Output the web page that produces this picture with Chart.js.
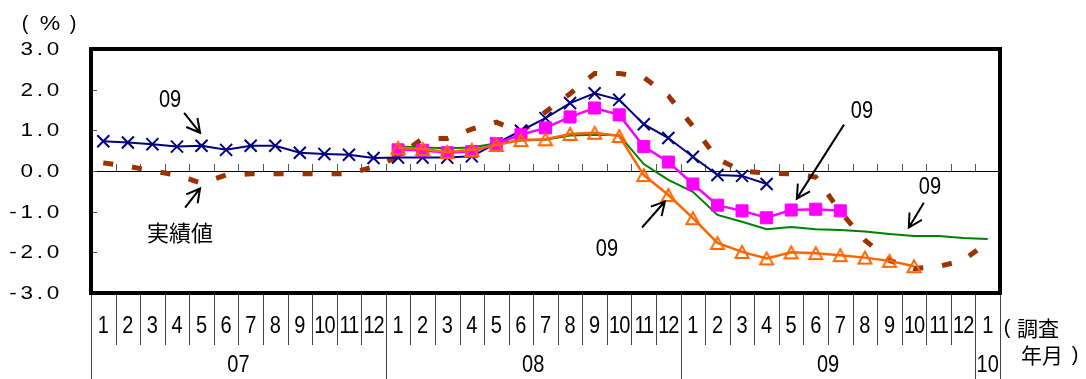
<!DOCTYPE html>
<html lang="ja">
<head>
<meta charset="utf-8">
<title>実績値と見通しの推移</title>
<script src="https://cdn.jsdelivr.net/npm/chart.js@4"></script>
<style>
  html, body { margin: 0; background: #fff; }
  canvas { display: block; }
</style>
</head>
<body>
<canvas id="chart" width="1086" height="379"></canvas>
<script>
// 調査月（07年1月〜10年1月）
const months = ['1','2','3','4','5','6','7','8','9','10','11','12',
                '1','2','3','4','5','6','7','8','9','10','11','12',
                '1','2','3','4','5','6','7','8','9','10','11','12',
                '1'];
const yearLabels = ['07', '08', '09', '10'];
const yearStart = [0, 12, 24, 36];
const yearEnd = [11, 23, 35, 36];
const yTicks = [3, 2, 1, 0, -1, -2, -3];

// 実績値
const actual = [0.20, 0.12, 0.00, -0.10, -0.30, -0.10, -0.07, -0.07, -0.07, -0.07, -0.07, 0.10,
                0.35, 0.80, 0.80, 1.03, 1.20, 0.95, 1.45, 1.90, 2.40, 2.40, 2.30, 1.85,
                1.10, 0.30, 0.00, -0.05, -0.07, -0.15, -1.00, -1.70, -2.20, -2.40, -2.35, -2.20,
                -1.75];
// 見通し（×）
const forecastCross = [0.73, 0.70, 0.66, 0.60, 0.62, 0.52, 0.62, 0.62, 0.45, 0.42, 0.40, 0.32,
                       0.33, 0.33, 0.33, 0.36, 0.68, 0.99, 1.30, 1.67, 1.91, 1.75, 1.15, 0.81,
                       0.35, -0.10, -0.12, -0.32, null, null, null, null, null, null, null, null,
                       null];
// 見通し（■）
const forecastSquare = [null, null, null, null, null, null, null, null, null, null, null, null,
                        0.52, 0.51, 0.45, 0.48, 0.67, 0.89, 1.06, 1.33, 1.55, 1.38, 0.60, 0.22,
                        -0.32, -0.84, -0.98, -1.15, -0.96, -0.94, -0.98, null, null, null, null, null,
                        null];
// 見通し（線のみ）
const forecastLine = [null, null, null, null, null, null, null, null, null, null, null, null,
                      0.60, 0.58, 0.56, 0.58, 0.68, 0.75, 0.77, 0.87, 0.89, 0.88, 0.17, -0.22,
                      -0.51, -1.08, -1.25, -1.43, -1.38, -1.43, -1.45, -1.49, -1.55, -1.60, -1.60, -1.65,
                      -1.67];
// 見通し（△）
const forecastTriangle = [null, null, null, null, null, null, null, null, null, null, null, null,
                          0.57, 0.54, 0.47, 0.52, 0.64, 0.76, 0.78, 0.91, 0.94, 0.86, -0.10, -0.59,
                          -1.16, -1.77, -1.99, -2.15, -2.00, -2.02, -2.07, -2.13, -2.21, -2.34, null, null,
                          null];

// 注記：[月の位置, 値]
const notes = [
  { text: '09', at: [2.72, 1.73], from: [3.29, 1.43], to: [3.94, 0.94] },
  { text: '実績値', cjk: true, at: [3.12, -1.52], from: [3.33, -0.90], to: [3.94, -0.43] },
  { text: '09', at: [20.5, -1.93], from: [21.93, -1.39], to: [22.86, -0.75] },
  { text: '09', at: [30.88, 1.46], from: [30.15, 1.14], to: [28.23, -0.68] },
  { text: '09', at: [33.65, -0.41], from: [33.4, -0.78], to: [32.79, -1.39] }
];

const LATIN = '"Liberation Sans", Arial, sans-serif';
const CJK = '"Noto Sans CJK JP", sans-serif';

function drawText(ctx, str, x, y, opt = {}) {
  ctx.save();
  ctx.translate(x, y);
  ctx.scale(opt.sx || 1, opt.sy || 1);
  ctx.font = `${opt.size || 20}px ${opt.family || LATIN}`;
  ctx.fillStyle = '#000';
  ctx.textAlign = opt.align || 'center';
  ctx.textBaseline = 'middle';
  if (opt.spacing) ctx.letterSpacing = opt.spacing + 'px';
  ctx.fillText(str, 0, 0);
  ctx.restore();
}

function drawArrow(ctx, x1, y1, x2, y2) {
  const a = Math.atan2(y2 - y1, x2 - x1), h = 15, w = 0.5;
  ctx.beginPath();
  ctx.moveTo(x1, y1);
  ctx.lineTo(x2, y2);
  ctx.moveTo(x2 - h * Math.cos(a - w), y2 - h * Math.sin(a - w));
  ctx.lineTo(x2, y2);
  ctx.lineTo(x2 - h * Math.cos(a + w), y2 - h * Math.sin(a + w));
  ctx.stroke();
}

// 中抜きの三角マーカー
function triangleMarker() {
  const c = document.createElement('canvas');
  c.width = 18; c.height = 18;
  const g = c.getContext('2d');
  g.strokeStyle = '#FF6600';
  g.lineWidth = 2;
  g.lineJoin = 'miter';
  g.beginPath();
  g.moveTo(9, 3);
  g.lineTo(15.5, 15);
  g.lineTo(2.5, 15);
  g.closePath();
  g.stroke();
  return c;
}

const axisPlugin = {
  id: 'axisPlugin',
  beforeDatasetsDraw(chart) {
    const { ctx, chartArea: a, scales: { x, y } } = chart;
    const y0 = y.getPixelForValue(0);
    ctx.save();
    ctx.strokeStyle = '#000';
    ctx.lineWidth = 1;
    ctx.beginPath();
    ctx.moveTo(a.left, y0 + 0.5);
    ctx.lineTo(a.right, y0 + 0.5);
    ctx.stroke();
    // 0線上の目盛り
    ctx.strokeStyle = '#555';
    ctx.beginPath();
    for (let i = 1; i < months.length; i++) {
      const px = Math.round(x.getPixelForValue(i - 0.5)) + 0.5;
      ctx.moveTo(px, y0);
      ctx.lineTo(px, y0 - 7);
    }
    // 縦軸の目盛り
    yTicks.forEach(v => {
      const py = Math.round(y.getPixelForValue(v)) + 0.5;
      ctx.moveTo(a.left, py);
      ctx.lineTo(a.left + 6, py);
    });
    ctx.stroke();
    ctx.restore();
  },
  afterDraw(chart) {
    const { ctx, chartArea: a, scales: { x, y } } = chart;
    ctx.save();

    // 外枠
    ctx.strokeStyle = '#000';
    ctx.lineWidth = 4;
    ctx.strokeRect(a.left, a.top, a.right - a.left, a.bottom - a.top);

    // 縦軸ラベル
    yTicks.forEach(v => {
      drawText(ctx, v.toFixed(1), 63, y.getPixelForValue(v) + 1, { size: 18, sx: 1.25, spacing: 3, align: 'right' });
    });
    drawText(ctx, '(', 25, 24, { size: 20 });
    drawText(ctx, '%', 50, 24, { size: 20, sx: 1.15 });
    drawText(ctx, ')', 73, 24, { size: 20 });

    // 横軸：月の区切りと年の区切り
    ctx.strokeStyle = '#444';
    ctx.lineWidth = 1;
    ctx.beginPath();
    for (let i = 0; i <= months.length; i++) {
      const px = Math.round(x.getPixelForValue(i - 0.5)) + 0.5;
      const full = yearStart.includes(i) || i === months.length;
      ctx.moveTo(px, a.bottom + 2);
      ctx.lineTo(px, full ? chart.height : 345);
    }
    ctx.stroke();
    months.forEach((m, i) => {
      drawText(ctx, m, x.getPixelForValue(i), 327, { size: 20, sy: 1.15, spacing: m.length > 1 ? -1 : 0 });
    });
    yearLabels.forEach((yl, k) => {
      const cx = (x.getPixelForValue(yearStart[k]) + x.getPixelForValue(yearEnd[k])) / 2;
      drawText(ctx, yl, cx, 366, { size: 20, sy: 1.15 });
    });
    drawText(ctx, '(', 1007, 328, { size: 20 });
    drawText(ctx, '調査', 1017, 328, { size: 21, family: CJK, align: 'left' });
    drawText(ctx, '年月', 1021, 355, { size: 21, family: CJK, align: 'left' });
    drawText(ctx, ')', 1075, 355, { size: 20 });

    // 注記と矢印
    ctx.strokeStyle = '#000';
    ctx.lineWidth = 2;
    notes.forEach(n => {
      drawArrow(ctx, x.getPixelForValue(n.from[0]), y.getPixelForValue(n.from[1]),
                x.getPixelForValue(n.to[0]), y.getPixelForValue(n.to[1]));
      const tx = x.getPixelForValue(n.at[0]), ty = y.getPixelForValue(n.at[1]);
      if (n.cjk) drawText(ctx, n.text, tx, ty, { size: 22, family: CJK });
      else drawText(ctx, n.text, tx, ty, { size: 20, sy: 1.15 });
    });
    ctx.restore();
  }
};

new Chart(document.getElementById('chart'), {
  type: 'line',
  data: {
    labels: months,
    datasets: [
      { label: '見通し△', data: forecastTriangle, order: 0, borderColor: '#FF6600', borderWidth: 2.5,
        pointStyle: triangleMarker(), pointRadius: 8, tension: 0 },
      { label: '見通し■', data: forecastSquare, order: 1, borderColor: '#FF00FF', backgroundColor: '#FF00FF',
        borderWidth: 2.5, pointStyle: 'rect', pointRadius: 8.5, pointBorderWidth: 1, tension: 0 },
      { label: '見通し', data: forecastLine, order: 2, borderColor: '#008000', borderWidth: 2,
        pointRadius: 0, tension: 0 },
      { label: '見通し×', data: forecastCross, order: 3, borderColor: '#000080', backgroundColor: '#000080',
        borderWidth: 2, pointStyle: 'crossRot', pointRadius: 8.5, pointBorderWidth: 2, tension: 0 },
      { label: '実績値', data: actual, order: 4, borderColor: '#993300', borderWidth: 5,
        borderDash: [10, 19], borderCapStyle: 'butt', pointRadius: 0, tension: 0 }
    ]
  },
  options: {
    responsive: false,
    animation: false,
    events: [],
    layout: { padding: { left: 91, right: 86, top: 49, bottom: 86 } },
    scales: {
      x: { display: false, offset: true },
      y: { display: false, min: -3, max: 3 }
    },
    plugins: { legend: { display: false }, tooltip: { enabled: false } }
  },
  plugins: [axisPlugin]
});
</script>
</body>
</html>
